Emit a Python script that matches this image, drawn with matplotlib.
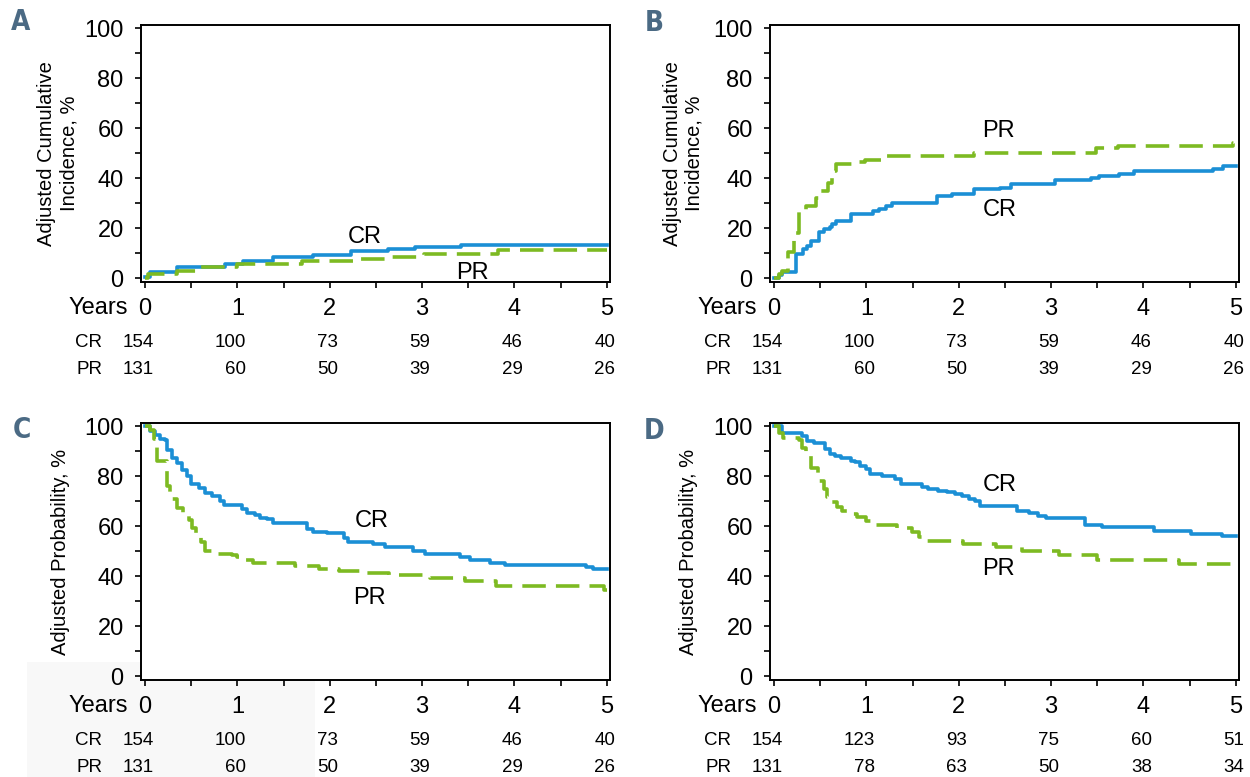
import numpy as np
import matplotlib as mpl
mpl.use('Agg')
import matplotlib.pyplot as plt
import matplotlib.transforms as mtransforms
from matplotlib.patches import Rectangle

plt.rcParams['font.family'] = ['Liberation Sans', 'DejaVu Sans']

blue = '#1b8fd5'
green = '#7dba22'
letter_col = '#4b6a84'

years = [0, 1, 2, 3, 4, 5]

# A - cumulative incidence (low)
a_cr_t = [0, 0.05, 0.35, 0.86, 1.06, 1.38, 1.82, 2.23, 2.63, 2.92, 3.42, 5.0]
a_cr_v = [0.5, 2.6, 4.5, 5.6, 7.0, 8.5, 9.3, 10.8, 11.7, 12.4, 13.1, 13.1]
a_pr_t = [0, 0.03, 0.35, 0.55, 1.0, 1.7, 2.3, 2.6, 3.02, 3.82, 5.0]
a_pr_v = [0, 1.5, 3.0, 4.5, 5.5, 6.8, 7.6, 8.4, 9.8, 11.4, 11.4]

# B - cumulative incidence (high)
b_cr_t = [0, 0.05, 0.09, 0.235, 0.31, 0.36, 0.40, 0.49, 0.54, 0.60, 0.63, 0.67, 0.83, 1.07, 1.14,
          1.21, 1.28, 1.76, 1.93, 2.17, 2.45, 2.57, 3.04, 3.43, 3.52, 3.74, 3.90, 4.75, 4.86, 5.0]
b_cr_v = [0, 1.2, 2.4, 9.8, 11.8, 13.0, 15.0, 18.5, 19.8, 20.5, 21.8, 23.0, 25.6, 27.0, 27.8,
          28.8, 29.9, 33.0, 33.6, 35.6, 36.2, 37.5, 39.2, 40.2, 40.9, 41.7, 42.8, 43.8, 44.8, 44.8]
b_pr_t = [0, 0.05, 0.09, 0.145, 0.22, 0.27, 0.34, 0.45, 0.49, 0.58, 0.63, 0.67, 0.92, 0.98, 1.21,
          2.17, 3.49, 3.72, 4.97, 5.0]
b_pr_v = [0, 1.5, 3.0, 10.5, 18.0, 27.0, 29.0, 32.0, 35.0, 38.0, 43.0, 45.5, 46.4, 47.3, 49.0,
          50.3, 52.0, 52.8, 54.2, 54.2]

# C - probability
c_cr_t = [0, 0.05, 0.11, 0.16, 0.22, 0.235, 0.29, 0.34, 0.40, 0.45, 0.50, 0.58, 0.65, 0.72, 0.81,
          0.85, 1.05, 1.10, 1.19, 1.24, 1.32, 1.39, 1.75, 1.82, 1.97, 2.15, 2.20, 2.47, 2.60, 2.90,
          3.03, 3.41, 3.52, 3.73, 3.90, 4.78, 4.85, 5.0]
c_cr_v = [100, 98.3, 96.6, 95.0, 94.4, 90.7, 87.4, 85.4, 82.7, 80.0, 76.8, 75.4, 73.4, 72.0, 70.0,
          68.5, 66.8, 65.5, 64.4, 63.5, 62.8, 61.5, 58.9, 57.8, 57.3, 55.2, 53.8, 52.9, 51.6, 50.3,
          49.0, 47.6, 46.3, 45.4, 44.6, 43.7, 42.8, 42.8]
c_pr_t = [0, 0.05, 0.10, 0.13, 0.24, 0.27, 0.34, 0.41, 0.47, 0.51, 0.55, 0.60, 0.65, 0.72, 0.94,
          1.0, 1.05, 1.17, 1.62, 1.88, 2.10, 2.35, 2.64, 3.08, 3.46, 3.80, 4.97, 5.0]
c_pr_v = [100, 98.5, 95.0, 86.0, 76.0, 71.0, 67.5, 65.0, 62.5, 59.5, 57.0, 53.6, 50.3, 49.0, 48.3,
          47.6, 46.3, 45.4, 43.9, 43.0, 42.1, 41.4, 40.3, 39.3, 38.0, 36.1, 34.4, 34.4]

# D - probability
d_cr_t = [0, 0.087, 0.30, 0.357, 0.43, 0.555, 0.61, 0.66, 0.72, 0.83, 0.88, 0.93, 0.99, 1.04,
          1.17, 1.31, 1.37, 1.60, 1.67, 1.78, 1.87, 1.96, 2.03, 2.11, 2.18, 2.23, 2.63, 2.76,
          2.86, 2.94, 3.37, 3.55, 4.11, 4.52, 4.85, 5.0]
d_cr_v = [100, 97.4, 96.2, 94.3, 93.3, 90.9, 88.9, 88.0, 87.2, 86.3, 85.6, 84.3, 82.9, 80.9,
          80.0, 78.9, 76.9, 75.6, 74.9, 74.3, 73.6, 72.9, 72.0, 70.9, 70.3, 68.0, 66.3, 65.3,
          64.3, 63.2, 60.5, 59.6, 58.3, 56.9, 56.3, 56.3]
d_pr_t = [0, 0.05, 0.10, 0.27, 0.30, 0.34, 0.40, 0.48, 0.54, 0.57, 0.61, 0.68, 0.74, 0.83, 0.90,
          0.99, 1.10, 1.33, 1.49, 1.57, 1.64, 2.05, 2.40, 2.68, 3.08, 3.50, 4.38, 5.0]
d_pr_v = [100, 97.5, 95.5, 94.5, 91.5, 88.5, 83.5, 78.0, 75.0, 71.6, 69.6, 67.6, 66.3, 65.0, 63.6,
          62.3, 60.5, 59.2, 57.6, 55.6, 54.3, 52.9, 51.6, 50.3, 48.5, 46.6, 44.8, 44.8]

# numbers at risk
risk_cr_abc = [154, 100, 73, 59, 46, 40]
risk_pr_abc = [131, 60, 50, 39, 29, 26]
risk_cr_d = [154, 123, 93, 75, 60, 51]
risk_pr_d = [131, 78, 63, 50, 38, 34]

ylab_ci = 'Adjusted Cumulative\nIncidence, %'
ylab_p = 'Adjusted Probability, %'

fig = plt.figure(figsize=(12.5, 7.77), dpi=100, facecolor='w')

# faint scan shading under panel C
fig.patches.append(Rectangle((27 / 1250, 0), 288 / 1250, 115 / 777, transform=fig.transFigure,
                             facecolor='#f8f8f8', edgecolor='none', zorder=-10))

W = 469 / 1250
H = 257 / 777
pos = {'A': [141 / 1250, 1 - 282 / 777, W, H],
       'B': [770 / 1250, 1 - 282 / 777, W, H],
       'C': [141 / 1250, 1 - 680 / 777, W, H],
       'D': [770 / 1250, 1 - 680 / 777, W, H]}
letter_xy = {'A': (21, 22), 'B': (654, 23), 'C': (22, 430), 'D': (654, 431)}

panels = [
    ('A', a_cr_t, a_cr_v, a_pr_t, a_pr_v, ylab_ci, -0.178, risk_cr_abc, risk_pr_abc, (2.38, 16.4), (3.54, 2.1)),
    ('B', b_cr_t, b_cr_v, b_pr_t, b_pr_v, ylab_ci, -0.185, risk_cr_abc, risk_pr_abc, (2.44, 27.1), (2.43, 58.8)),
    ('C', c_cr_t, c_cr_v, c_pr_t, c_pr_v, ylab_p, -0.171, risk_cr_abc, risk_pr_abc, (2.45, 62.0), (2.43, 31.4)),
    ('D', d_cr_t, d_cr_v, d_pr_t, d_pr_v, ylab_p, -0.173, risk_cr_d, risk_pr_d, (2.44, 76.6), (2.43, 42.9)),
]

for key, crt, crv, prt, prv, ylab, ylx, rcr, rpr, cr_xy, pr_xy in panels:
    ax = fig.add_axes(pos[key])
    ax.step(crt, crv, where='post', color=blue, lw=2.6, zorder=3)
    ax.step(prt, prv, where='post', color=green, lw=2.6, dashes=(6.5, 2.8), zorder=4)
    ax.set_xlim(-0.045, 5.035)
    ax.set_ylim(-1.6, 101.4)
    ax.set_xticks(years)
    ax.set_xticks(np.arange(0.5, 5, 1), minor=True)
    ax.set_yticks(range(0, 101, 20))
    ax.set_yticks(range(10, 100, 20), minor=True)
    ax.tick_params(which='both', direction='out', length=4.5, width=1.2, labelsize=17)
    ax.tick_params(axis='x', which='both', pad=7)
    ax.tick_params(axis='y', which='both', pad=8)
    for s in ax.spines.values():
        s.set_linewidth(1.4)

    ax.text(ylx, 0.5, ylab, transform=ax.transAxes, rotation=90, ha='center', va='center',
            fontsize=14.5, multialignment='center')
    ax.text(cr_xy[0], cr_xy[1], 'CR', ha='center', va='center', fontsize=17)
    ax.text(pr_xy[0], pr_xy[1], 'PR', ha='center', va='center', fontsize=17)

    tr = mtransforms.blended_transform_factory(ax.transData, ax.transAxes)
    ax.text(-0.185, -0.103, 'Years', transform=tr, ha='right', va='center', fontsize=17)
    ax.text(-0.465, -0.237, 'CR', transform=tr, ha='right', va='center', fontsize=13.5)
    ax.text(-0.465, -0.339, 'PR', transform=tr, ha='right', va='center', fontsize=13.5)
    for yr, n1, n2 in zip(years, rcr, rpr):
        ax.text(yr + 0.09, -0.237, str(n1), transform=tr, ha='right', va='center', fontsize=13.5)
        ax.text(yr + 0.09, -0.339, str(n2), transform=tr, ha='right', va='center', fontsize=13.5)

    lx, ly = letter_xy[key]
    fig.text(lx / 1250, 1 - ly / 777, key, ha='center', va='center', fontsize=20,
             fontweight='bold', fontstretch='condensed', color=letter_col,
             family=['DejaVu Sans'])

fig.savefig('out.png', dpi=100, facecolor='w')
